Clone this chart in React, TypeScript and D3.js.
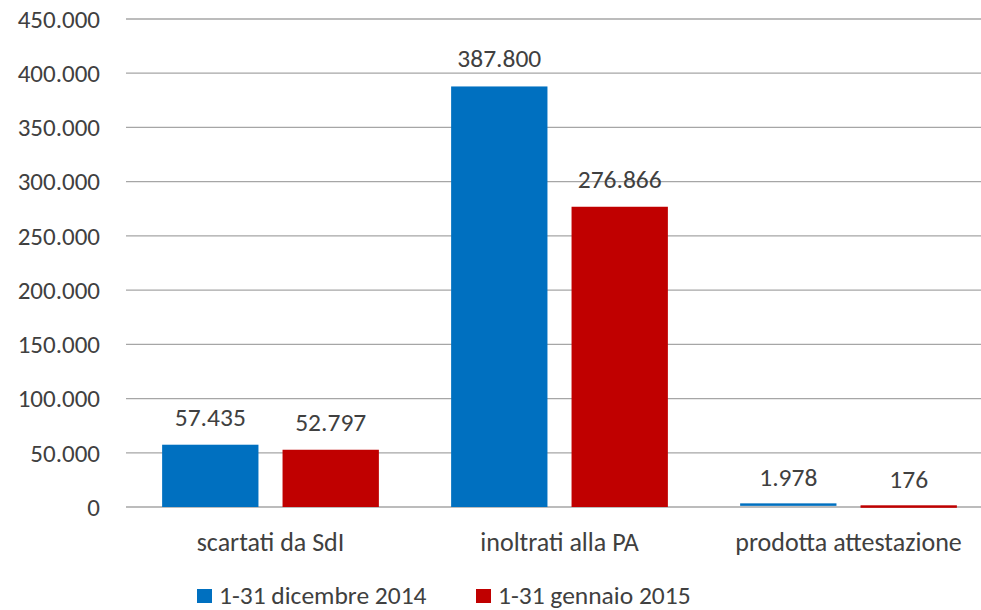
import * as d3 from "d3";

const categories = ["scartati da SdI", "inoltrati alla PA", "prodotta attestazione"];
const seriesNames = ["1-31 dicembre 2014", "1-31 gennaio 2015"];
const dicembre2014 = [57435, 387800, 1978];
const gennaio2015 = [52797, 276866, 176];
const yTicks = [0, 50000, 100000, 150000, 200000, 250000, 300000, 350000, 400000, 450000];

const colors = ["#0070c0", "#c00000"];

const itLocale = d3.formatLocale({
  decimal: ",",
  thousands: ".",
  grouping: [3],
  currency: ["", "€"],
});
const fmt = itLocale.format(",");

const App = () => {
  const width = 981;
  const height = 610;
  const plot = { left: 126, right: 993, top: 19, bottom: 507 };
  const font = "Calibri, Carlito, 'Liberation Sans', Arial, sans-serif";
  const textColor = "#404040";

  const series = [dicembre2014, gennaio2015];

  const x0 = d3
    .scaleBand()
    .domain(categories)
    .range([plot.left, plot.right])
    .paddingInner(0.25)
    .paddingOuter(0.125);

  const x1 = d3
    .scaleBand()
    .domain(seriesNames)
    .range([0, x0.bandwidth()])
    .paddingInner(0.2);

  const y = d3.scaleLinear().domain([0, 450000]).range([plot.bottom, plot.top]);

  return (
    <svg
      width={width}
      height={height}
      style={{ position: "absolute", left: 0, top: 0, background: "#fff" }}
      fontFamily={font}
    >
      {/* gridlines and y tick labels */}
      {yTicks.map((t) => (
        <g key={t}>
          <line
            x1={plot.left}
            x2={width}
            y1={y(t)}
            y2={y(t)}
            stroke="#a6a6a6"
            strokeWidth={1.3}
          />
          <text
            x={100}
            y={y(t)}
            dy="0.35em"
            textAnchor="end"
            fontSize={25}
            fill={textColor}
          >
            {fmt(t)}
          </text>
        </g>
      ))}

      {/* bars */}
      {categories.map((cat, ci) => (
        <g key={cat} transform={`translate(${x0(cat)},0)`}>
          {seriesNames.map((s, si) => {
            const v = series[si][ci];
            const bx = x1(s)!;
            const top = y(v);
            return (
              <g key={s}>
                <rect
                  x={bx}
                  y={top - (v < 3000 ? 1.5 : 0)}
                  width={x1.bandwidth()}
                  height={Math.max(plot.bottom - top, 2.5)}
                  fill={colors[si]}
                />
                <text
                  x={bx + x1.bandwidth() / 2}
                  y={top - 19}
                  textAnchor="middle"
                  fontSize={25.5}
                  fill={textColor}
                >
                  {fmt(v)}
                </text>
              </g>
            );
          })}
          <text
            x={x0.bandwidth() / 2}
            y={551}
            textAnchor="middle"
            fontSize={26}
            fill={textColor}
          >
            {cat}
          </text>
        </g>
      ))}

      {/* legend */}
      {seriesNames.map((s, si) => {
        const lx = [197, 476][si];
        return (
          <g key={s}>
            <rect x={lx} y={589} width={15} height={14} fill={colors[si]} />
            <text x={lx + 22} y={603.5} fontSize={25.5} fill={textColor}>
              {s}
            </text>
          </g>
        );
      })}
    </svg>
  );
};

export default App;
